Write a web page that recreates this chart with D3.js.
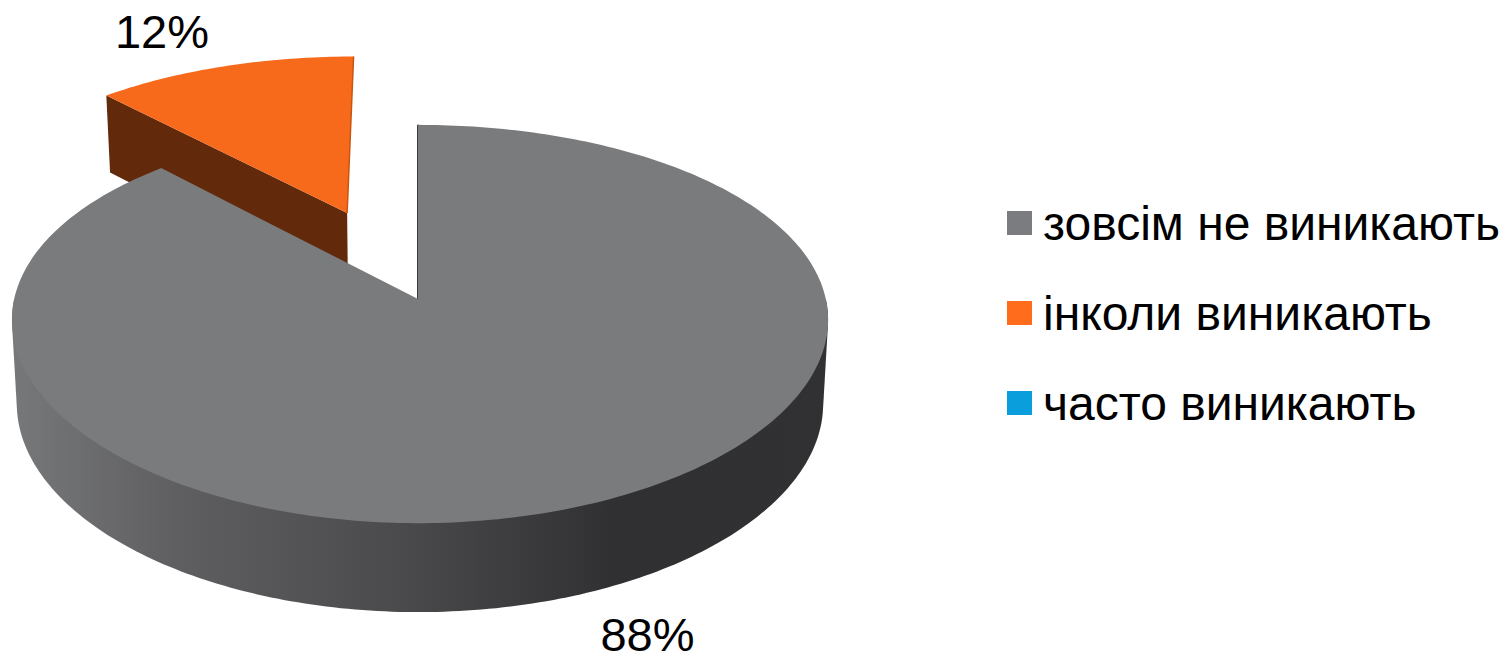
<!DOCTYPE html>
<html>
<head>
<meta charset="utf-8">
<script src="https://cdn.jsdelivr.net/npm/d3@7"></script>
<style>
  html, body { margin: 0; padding: 0; background: #fff; overflow: hidden; }
  text { font-family: "Liberation Sans", Arial, sans-serif; fill: #000; }
</style>
</head>
<body>
<svg id="chart" width="1507" height="656"></svg>
<script>
// chart data
const categories = ["зовсім не виникають", "інколи виникають", "часто виникають"];
const values = [88, 12, 0];
const valueLabels = ["88%", "12%", ""];

const topColors = ["#7a7b7d", "#f76a1b", "#0a9fdc"];
const legendColors = ["#7b7c80", "#ff6c1c", "#0a9fdc"];
const exploded = [0, 0.5, 0];

// perspective of the disc (the picture is a bit wider on the right of the centre)
const cx = 418, cy = 299, rxLeft = 403.8, rxRight = 407.8, ry = 196;
const perspX = 0.105, perspY = 0.1256;

const svg = d3.select("#chart");
const color = d3.scaleOrdinal().domain(categories).range(topColors);

const slices = d3.pie().sort(null).value(d => d)(values)
    .map((s, i) => Object.assign(s, {index: i}));

// u,v are disc coordinates, z runs 0 (top face) to 1 (bottom face)
function project(u, v, z) {
    const sx = 1 / (1 - perspX * v);
    const sy = 1 / (1 - perspY * v);
    const shrink = 1 - 0.012 * z;
    const depth = (83.5 + 5.45 * v) * z;
    return [cx + (u < 0 ? rxLeft : rxRight) * u * sx * shrink, cy + ry * v * sy + depth];
}

function slicePoint(slice, angle, radius, z) {
    const mid = (slice.startAngle + slice.endAngle) / 2;
    const off = exploded[slice.index];
    const u = off * Math.sin(mid) + radius * Math.sin(angle);
    const v = -off * Math.cos(mid) - radius * Math.cos(angle);
    return project(u, v, z);
}

const line = d3.line();

function angles(a0, a1) {
    const n = Math.max(2, Math.ceil(Math.abs(a1 - a0) * 60));
    return d3.range(n + 1).map(i => a0 + (a1 - a0) * i / n);
}

// wall shading, light on the left going dark to the right
const grad = svg.append("defs").append("linearGradient")
    .attr("id", "wallGrad")
    .attr("gradientUnits", "userSpaceOnUse")
    .attr("x1", 12).attr("x2", 828).attr("y1", 0).attr("y2", 0);
grad.selectAll("stop")
    .data([[0, "#77787a"], [0.2, "#5f5f62"], [0.48, "#4a4a4c"], [0.74, "#303032"], [1, "#313133"]])
    .enter().append("stop")
    .attr("offset", d => d[0])
    .attr("stop-color", d => d[1]);

const visible = slices.filter(s => s.value > 0);
const orange = visible.find(s => s.index == 1);
const gray = visible.find(s => s.index == 0);

// exploded slice first, the big one sits over it
svg.append("path")
    .attr("d", line([
        slicePoint(orange, orange.startAngle, 0, 0),
        slicePoint(orange, orange.startAngle, 1, 0),
        slicePoint(orange, orange.startAngle, 1, 1),
        slicePoint(orange, orange.startAngle, 0, 1)
    ]) + "Z")
    .attr("fill", "#62290b");

svg.append("path")
    .attr("d", line([slicePoint(orange, 0, 0, 0)]
        .concat(angles(orange.startAngle, orange.endAngle).map(a => slicePoint(orange, a, 1, 0)))) + "Z")
    .attr("fill", color(categories[orange.index]));

svg.append("path")
    .attr("d", line([slicePoint(orange, orange.endAngle, 0, 0), slicePoint(orange, orange.endAngle, 1, 0)]))
    .attr("stroke", "#c9560f").attr("stroke-width", 1.5).attr("fill", "none");

// front wall of the big slice
const wallPts = [];
angles(Math.PI * 0.5, Math.PI * 1.5).forEach(a => {
    wallPts.push(slicePoint(gray, a, 1, 0));
    wallPts.push(slicePoint(gray, a, 1, 1));
});
svg.append("path")
    .attr("d", line(d3.polygonHull(wallPts)) + "Z")
    .attr("fill", "url(#wallGrad)");

// inner edge of the gap
svg.append("path")
    .attr("d", line([slicePoint(gray, 0, 1, 0), slicePoint(gray, 0, 0, 0)]))
    .attr("stroke", "#3c3c3e").attr("stroke-width", 2).attr("fill", "none");

svg.append("path")
    .attr("d", line([slicePoint(gray, 0, 0, 0)]
        .concat(angles(gray.startAngle, gray.endAngle).map(a => slicePoint(gray, a, 1, 0)))) + "Z")
    .attr("fill", color(categories[gray.index]));

// value labels
const labelPos = [[647.5, 651], [162, 48]];
svg.selectAll(".val")
    .data(valueLabels.filter(d => d))
    .enter().append("text")
    .attr("class", "val")
    .attr("x", (d, i) => labelPos[i][0])
    .attr("y", (d, i) => labelPos[i][1])
    .attr("text-anchor", "middle")
    .attr("font-size", 47)
    .text(d => d);

// legend
const legendY = d3.scalePoint().domain(categories).range([211, 391]);
const legend = svg.selectAll(".legend")
    .data(categories)
    .enter().append("g")
    .attr("class", "legend")
    .attr("transform", d => "translate(1007," + legendY(d) + ")");
legend.append("rect")
    .attr("width", 25).attr("height", 24)
    .attr("fill", (d, i) => legendColors[i]);
legend.append("text")
    .attr("x", 36).attr("y", 29)
    .attr("font-size", 48)
    .text(d => d);
</script>
</body>
</html>
